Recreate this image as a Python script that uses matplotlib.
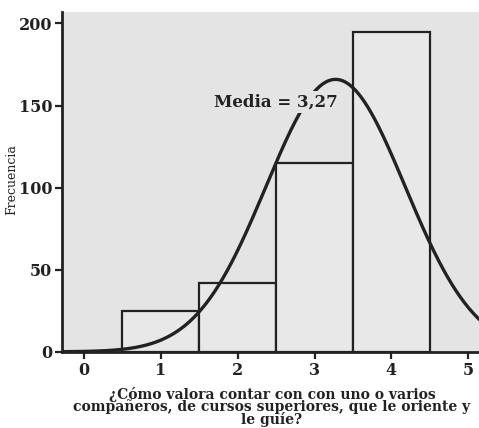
import matplotlib
matplotlib.use('Agg')
import matplotlib.pyplot as plt
import numpy as np

# Histogram data (answer value -> count)
values = [1, 2, 3, 4]
counts = [25, 42, 115, 195]
x_ticks = [0, 1, 2, 3, 4, 5]
y_ticks = [0, 50, 100, 150, 200]

xlabel = '¿Cómo valora contar con con uno o varios\ncompañeros, de cursos superiores, que le oriente y\nle guíe?'

plt.rcParams['font.family'] = ['DejaVu Serif']

fig = plt.figure(figsize=(4.79, 4.28), dpi=100)
ax = fig.add_axes([0.129, 0.178, 0.871, 0.794])
ax.set_facecolor('#e4e4e4')

ink = '#222222'
ax.bar(values, counts, width=1.0, facecolor='#e8e8e8', edgecolor=ink, linewidth=1.6, zorder=2)

# fitted normal curve
v = np.repeat(values, counts)
mu = v.mean()
sd = v.std(ddof=1)
xs = np.linspace(-0.3, 5.2, 400)
ys = len(v) * 1.0 / (sd * np.sqrt(2 * np.pi)) * np.exp(-0.5 * ((xs - mu) / sd) ** 2)
ax.plot(xs, ys, color=ink, linewidth=2.4, zorder=3)

ax.text(2.49, 152, 'Media = ' + f'{mu:.2f}'.replace('.', ','), fontsize=12, fontweight='bold',
        ha='center', va='center', color=ink, zorder=4,
        bbox=dict(boxstyle='square,pad=0.15', facecolor='#e4e4e4', edgecolor='none'))

ax.set_xlim(-0.29, 5.14)
ax.set_ylim(0, 207)
ax.set_xticks(x_ticks)
ax.set_yticks(y_ticks)
ax.tick_params(axis='both', direction='out', length=5, width=1.6, color=ink, labelsize=11.5, pad=2)
for lbl in ax.get_xticklabels() + ax.get_yticklabels():
    lbl.set_fontweight('bold')
    lbl.set_color(ink)

for s in ['top', 'right']:
    ax.spines[s].set_visible(False)
for s in ['left', 'bottom']:
    ax.spines[s].set_linewidth(2.0)
    ax.spines[s].set_color(ink)

fig.text(12 / 479, 1 - 180 / 428, 'Frecuencia', rotation=90, fontsize=9, color=ink,
         ha='center', va='center')
fig.text(272 / 479, 1 - 427 / 428, xlabel, fontsize=10, fontweight='bold', color=ink,
         ha='center', va='bottom', linespacing=0.8, multialignment='center')

fig.savefig('out.png', dpi=100)
